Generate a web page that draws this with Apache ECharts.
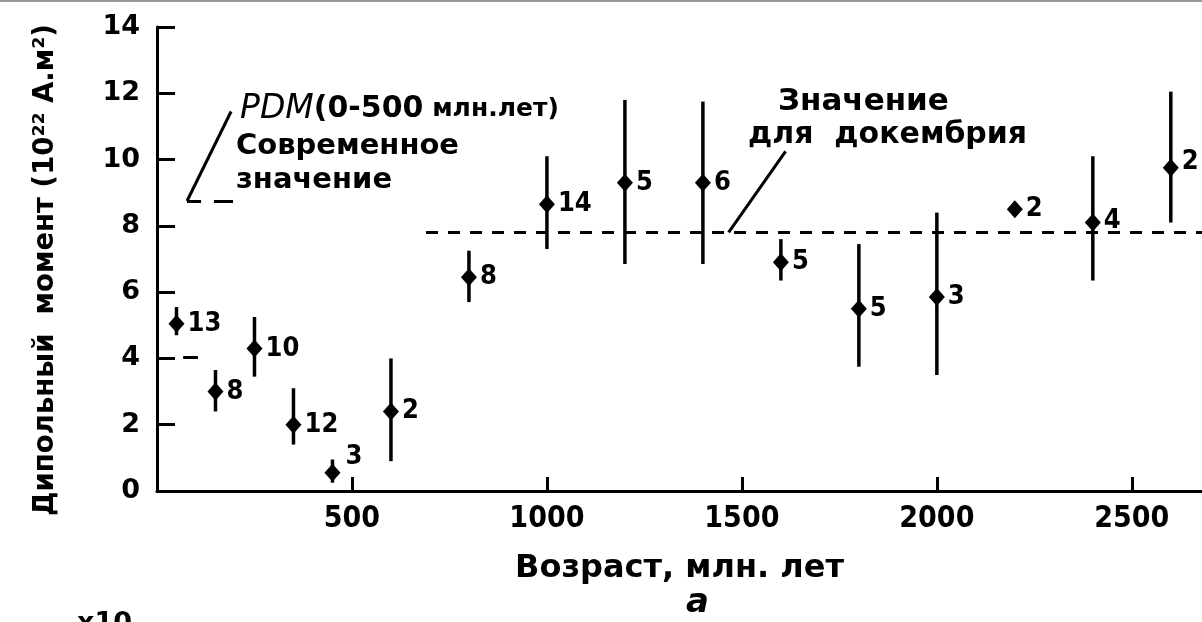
<!DOCTYPE html>
<html><head><meta charset="utf-8">
<script src="https://cdn.jsdelivr.net/npm/echarts@6/dist/echarts.min.js"></script>
<style>html,body{margin:0;padding:0;background:#fff}#c{width:1202px;height:622px}</style>
</head><body><div id="c"></div>
<script>
// Data (ages in млн. лет, dipole moment in 10^22 A·m^2)
const ages    = [50, 150, 250, 350, 450, 600, 800, 1000, 1200, 1400, 1600, 1800, 2000, 2200, 2400, 2600];
const moments = [5.05, 3.0, 4.3, 2.0, 0.55, 2.4, 6.45, 8.65, 9.3, 9.3, 6.9, 5.5, 5.85, 8.5, 8.1, 9.75];
const lows    = [4.7, 2.4, 3.45, 1.4, 0.25, 0.9, 5.7, 7.3, 6.85, 6.85, 6.35, 3.75, 3.5, 8.3, 6.35, 8.1];
const highs   = [5.55, 3.65, 5.25, 3.1, 0.95, 4.0, 7.25, 10.1, 11.8, 11.75, 7.6, 7.45, 8.4, 8.7, 10.1, 12.05];
const counts  = [13, 8, 10, 12, 3, 2, 8, 14, 5, 6, 5, 5, 3, 2, 4, 2];
const precambrianValue = 7.8;
const precambrianFrom = 690;
const modernValue = 8.75;
const pdmMeanValue = 4.05;
const xTicks = [0, 500, 1000, 1500, 2000, 2500];
const yTicks = [0, 2, 4, 6, 8, 10, 12, 14];

const FONT = '"DejaVu Sans", sans-serif';
const CFONT = '"DejaVu Sans Condensed", "DejaVu Sans", sans-serif';
const chart = echarts.init(document.getElementById('c'), null, {renderer: 'canvas'});

const labelOffsets = {4: [2, -16], 14: [0, -2], 15: [0, -6]};
const pointData = ages.map((a, i) => ({
  value: [a, moments[i], counts[i]],
  label: {offset: labelOffsets[i] || [0, 0], color: '#000'}
}));
const errData = ages.map((a, i) => [a, lows[i], highs[i]]);
const XMAX = 2680;

const option = {
  animation: false,
  backgroundColor: '#fff',
  grid: {left: 157, right: 0, top: 27, bottom: 131},
  xAxis: {
    type: 'value', min: 0, max: XMAX, interval: 500,
    name: 'Возраст, млн. лет', nameLocation: 'middle', nameGap: 62,
    nameTextStyle: {fontFamily: FONT, fontWeight: 'bold', fontSize: 32, color: '#000'},
    axisLine: {show: true, lineStyle: {color: '#000', width: 3}},
    axisTick: {show: true, inside: true, length: 14, lineStyle: {color: '#000', width: 3}},
    axisLabel: {
      fontFamily: CFONT, fontWeight: 'bold', fontSize: 30, color: '#000', margin: 13,
      showMaxLabel: false,
      formatter: v => (xTicks.indexOf(v) > 0 ? String(v) : '')
    },
    splitLine: {show: false}
  },
  yAxis: {
    type: 'value', min: 0, max: 14, interval: 2,
    axisLine: {show: true, lineStyle: {color: '#000', width: 3}},
    axisTick: {show: true, inside: true, length: 18, lineStyle: {color: '#000', width: 3}},
    axisLabel: {
      fontFamily: FONT, fontWeight: 'bold', fontSize: 27, color: '#000', margin: 17,
      formatter: v => (yTicks.indexOf(v) >= 0 ? String(v) : '')
    },
    splitLine: {show: false}
  },
  series: [
    {
      type: 'custom',
      data: errData,
      clip: false,
      renderItem: (params, api) => {
        const top = api.coord([api.value(0), api.value(2)]);
        const bot = api.coord([api.value(0), api.value(1)]);
        return {type: 'line', shape: {x1: top[0], y1: top[1], x2: bot[0], y2: bot[1]},
                style: {stroke: '#000', lineWidth: 3.5}};
      },
      z: 3
    },
    {
      type: 'scatter',
      data: pointData,
      symbol: 'diamond',
      symbolSize: [16, 18],
      itemStyle: {color: '#000', opacity: 1},
      label: {
        show: true, position: 'right', distance: 3,
        formatter: p => String(p.value[2]),
        fontFamily: CFONT, fontWeight: 'bold', fontSize: 27, color: '#000'
      },
      z: 4,
      markLine: {
        silent: true, symbol: ['none', 'none'], label: {show: false},
        lineStyle: {color: '#000', width: 3, type: 'solid'},
        data: [
          [{coord: [precambrianFrom, precambrianValue], lineStyle: {type: [12, 10], width: 3, color: '#000'}},
           {coord: [XMAX, precambrianValue]}],
          [{coord: [77, modernValue]}, {coord: [113, modernValue]}],
          [{coord: [146, modernValue]}, {coord: [195, modernValue]}],
          [{coord: [77, modernValue]}, {coord: [190, 11.45]}],
          [{coord: [67, pdmMeanValue]}, {coord: [105, pdmMeanValue]}],
          [{coord: [1466, precambrianValue]}, {coord: [1612, 10.25]}]
        ]
      }
    }
  ],
  graphic: [
    {type: 'rect', left: 0, top: 0, shape: {width: 1202, height: 2}, style: {fill: '#9a9a9a'}, silent: true},
    {type: 'text', x: 46, y: 270, rotation: Math.PI / 2, style: {
      text: 'Дипольный  момент (10²² А.м²)', font: 'bold 27.5px ' + FONT, fill: '#000',
      align: 'center', verticalAlign: 'middle'}},
    {type: 'text', left: 240, top: 93, style: {
      text: '{i|PDM}{n|(0-500}{s| млн.лет)}',
      rich: {
        i: {fontFamily: FONT, fontStyle: 'italic', fontSize: 33, fill: '#000'},
        n: {fontFamily: FONT, fontWeight: 'bold', fontSize: 30, fill: '#000'},
        s: {fontFamily: FONT, fontWeight: 'bold', fontSize: 25, fill: '#000'}
      }}},
    {type: 'text', left: 236, top: 132, style: {text: 'Современное', font: 'bold 29px ' + FONT, fill: '#000'}},
    {type: 'text', left: 236, top: 166, style: {text: 'значение', font: 'bold 29px ' + FONT, fill: '#000'}},
    {type: 'text', left: 778, top: 86, style: {text: 'Значение', font: 'bold 31px ' + FONT, fill: '#000'}},
    {type: 'text', left: 748, top: 120, style: {text: 'для  докембрия', font: 'bold 30px ' + FONT, fill: '#000'}},
    {type: 'text', left: 686, top: 586, style: {text: 'a', font: 'italic bold 34px ' + FONT, fill: '#000'}},
    {type: 'text', left: 77, top: 610, style: {text: 'x10', font: 'bold 27px ' + FONT, fill: '#000'}}
  ]
};
chart.setOption(option);
</script>
</body></html>
